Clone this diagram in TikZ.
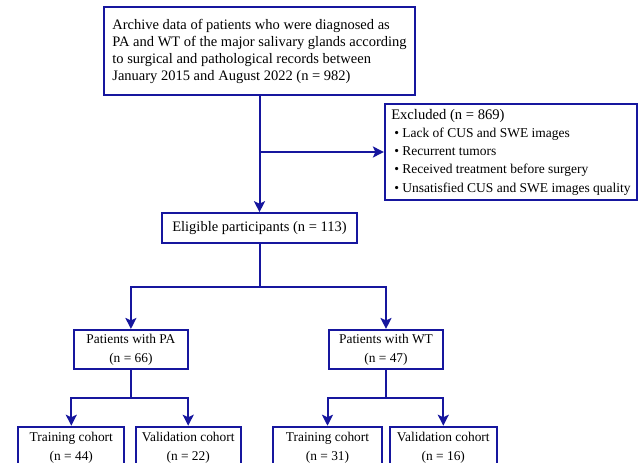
\documentclass[tikz,border=0pt]{standalone}
\usepackage{fontspec}
\setmainfont{Liberation Serif}
\usetikzlibrary{arrows.meta}
\definecolor{flowblue}{RGB}{22,22,158}
\begin{document}
\begin{tikzpicture}[x=1pt,y=-1pt,
  box/.style={draw=flowblue, line width=2.2pt, fill=white, inner sep=0pt, align=center, text=black},
  arr/.style={draw=flowblue, line width=2pt, -{Stealth[length=11pt,width=11pt,inset=2.5pt]}},
  ln/.style={draw=flowblue, line width=2pt},
  big/.style={font=\fontsize{14.5}{17}\selectfont},
  mid/.style={font=\fontsize{13.4}{18.5}\selectfont},
  small/.style={font=\fontsize{13.4}{19.5}\selectfont}]
\useasboundingbox (0,0) rectangle (641,463);
\clip (0,0) rectangle (641,463);
% nodes
\node[box, big, minimum width=311pt, minimum height=88pt, align=left] (src) at (259.5,51.2)
  {Archive data of patients who were diagnosed as\\PA and WT of the major salivary glands according\\to surgical and pathological records between\\January 2015 and August 2022 (n = 982)};
\node[box, font=\fontsize{13.5}{18.3}\selectfont, minimum width=252pt, minimum height=96pt, align=left] (excl) at (511,152)
  {{\fontsize{14.6}{18.3}\selectfont Excluded (n = 869)}\\\hspace*{3pt}• Lack of CUS and SWE images\\\hspace*{3pt}• Recurrent tumors\\\hspace*{3pt}• Received treatment before surgery\\\hspace*{3pt}• Unsatisfied CUS and SWE images quality};
\node[box, big, minimum width=195pt, minimum height=30pt] (elig) at (259.5,228.3) {Eligible participants (n = 113)};
\node[box, mid, minimum width=113.7pt, minimum height=39.3pt] (pa) at (130.9,349.7) {Patients with PA\\(n = 66)};
\node[box, mid, minimum width=113.4pt, minimum height=39.3pt] (wt) at (386,349.7) {Patients with WT\\(n = 47)};
\node[box, small, minimum width=106pt, minimum height=42.3pt] (patr) at (71.3,448) {Training cohort\\(n = 44)};
\node[box, small, minimum width=105pt, minimum height=42.3pt] (pava) at (188.2,448) {Validation cohort\\(n = 22)};
\node[box, small, minimum width=109pt, minimum height=42.3pt] (wttr) at (327.5,448) {Training cohort\\(n = 31)};
\node[box, small, minimum width=106.7pt, minimum height=42.3pt] (wtva) at (443.3,448) {Validation cohort\\(n = 16)};
% connectors
\draw[arr] (src) -- (elig);
\coordinate (j1) at (259.5,152);
\draw[arr] (j1) -- (excl);
\coordinate (j2) at (259.5,286.7);
\draw[ln] (elig) -- (j2);
\draw[arr] (j2) -| (pa);
\draw[arr] (j2) -| (wt);
\coordinate (j3) at (130.9,397.7);
\draw[ln] (pa) -- (j3);
\draw[arr] (j3) -| (patr);
\draw[arr] (j3) -| (pava);
\coordinate (j4) at (386,397.7);
\draw[ln] (wt) -- (j4);
\draw[arr] (j4) -| (wttr);
\draw[arr] (j4) -| (wtva);
\end{tikzpicture}
\end{document}
